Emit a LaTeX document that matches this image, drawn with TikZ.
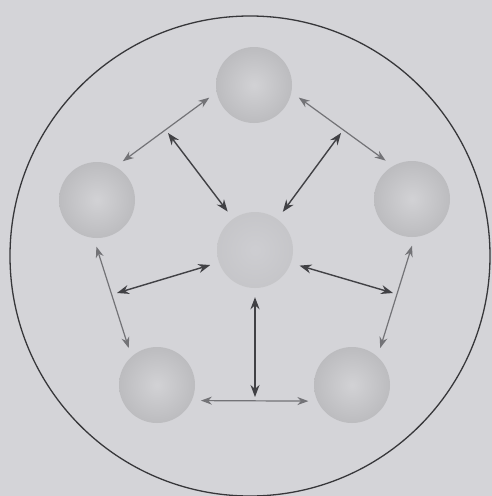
\documentclass[tikz,border=0pt]{standalone}
\usetikzlibrary{arrows.meta}
\definecolor{paper}{RGB}{212,212,216}
\definecolor{rim}{RGB}{55,55,58}
\definecolor{ballin}{RGB}{210,210,213}
\definecolor{ballout}{RGB}{188,188,191}
\definecolor{linkgray}{RGB}{115,115,119}
\definecolor{spokegray}{RGB}{65,65,69}
\begin{document}
\begin{tikzpicture}[x=1pt, y=-1pt,
    ball/.style={circle, minimum size=76pt, inner sep=0pt, shading=radial,
        inner color=ballin, outer color=ballout},
    hubball/.style={ball, inner color=paper!97!black, outer color=ballout!60!paper},
    link/.style={{Stealth[length=11pt,width=8pt]}-{Stealth[length=11pt,width=8pt]},
        line width=1.2pt, draw=linkgray, shorten <=9pt, shorten >=9pt},
    spoke/.style={{Stealth[length=12pt,width=9pt]}-{Stealth[length=12pt,width=9pt]},
        line width=1.4pt, draw=spokegray, shorten <=9pt}]
    \fill[paper] (0,0) rectangle (492,496);
    \useasboundingbox (0,0) rectangle (492,496);
    \draw[line width=1.3pt, rim] (250,256) circle[radius=240pt];

    \foreach \name/\x/\y in {top/254/85, west/97/200, east/412/199, sw/157/385, se/352/385}
        \node[ball] (\name) at (\x,\y) {};
    \node[hubball] (hub) at (255,250) {};

    \coordinate (nwgap) at (168,133);
    \coordinate (negap) at (341,133);
    \coordinate (wgap) at (117,293);
    \coordinate (egap) at (393,293);
    \coordinate (sgap) at (255,397);

    \foreach \a/\b in {west.61/top.191, top.349/east.120, east.274/se.48,
                       se.205/sw.336, sw.132/west.265}
        \draw[link] (\a) -- (\b);
    \foreach \a/\b in {125/nwgap, 54/negap, 199/wgap, 340/egap, 270/sgap}
        \draw[spoke] (hub.\a) -- (\b);
\end{tikzpicture}
\end{document}
